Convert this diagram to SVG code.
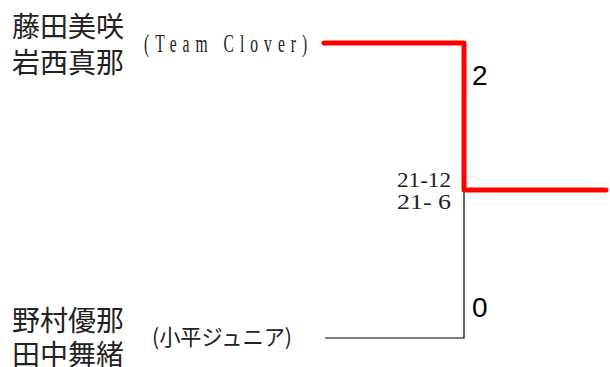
<svg xmlns="http://www.w3.org/2000/svg" width="610" height="367" viewBox="0 0 610 367">
<style>
.name{font-family:"Noto Sans CJK JP","Noto Sans",sans-serif;font-size:28px;fill:#222}
.team{font-family:"Liberation Serif","Noto Sans CJK JP",serif;font-size:26px;fill:#222}
.teamjp{font-family:"Noto Sans CJK JP",sans-serif;font-size:22px;fill:#222}
.score{font-family:"Liberation Serif",serif;font-size:22px;fill:#222}
.game{font-family:"Liberation Sans",sans-serif;font-size:28px;fill:#000}
.win{fill:none;stroke:#ff0000;stroke-width:5;stroke-linecap:round;stroke-linejoin:round}
.lose{fill:none;stroke:#000;stroke-width:1.2}
</style>
<rect width="610" height="367" fill="#fff"/>
<g id="connectors">
<polyline class="lose" points="325,338 464,338 464,190"/>
<polyline class="win" points="324,43 464,43 464,190 606,190"/>
</g>
<g id="player-top">
<text class="name" x="12" y="37">藤田美咲</text>
<text class="name" x="12" y="73">岩西真那</text>
<text class="team" transform="scale(0.6,1)" x="240" y="52" textLength="272" lengthAdjust="spacing">(Team Clover)</text>
</g>
<g id="player-bottom">
<text class="name" x="12" y="331">野村優那</text>
<text class="name" x="12" y="365">田中舞緒</text>
<text class="teamjp" x="152" y="345" textLength="140" lengthAdjust="spacingAndGlyphs">(小平ジュニア)</text>
</g>
<g id="match">
<text class="score" x="397" y="187" textLength="54" lengthAdjust="spacingAndGlyphs">21-12</text>
<text class="score" x="397" y="209" textLength="54" lengthAdjust="spacingAndGlyphs" xml:space="preserve">21- 6</text>
<text class="game" x="472" y="85">2</text>
<text class="game" x="472" y="317">0</text>
</g>
</svg>
